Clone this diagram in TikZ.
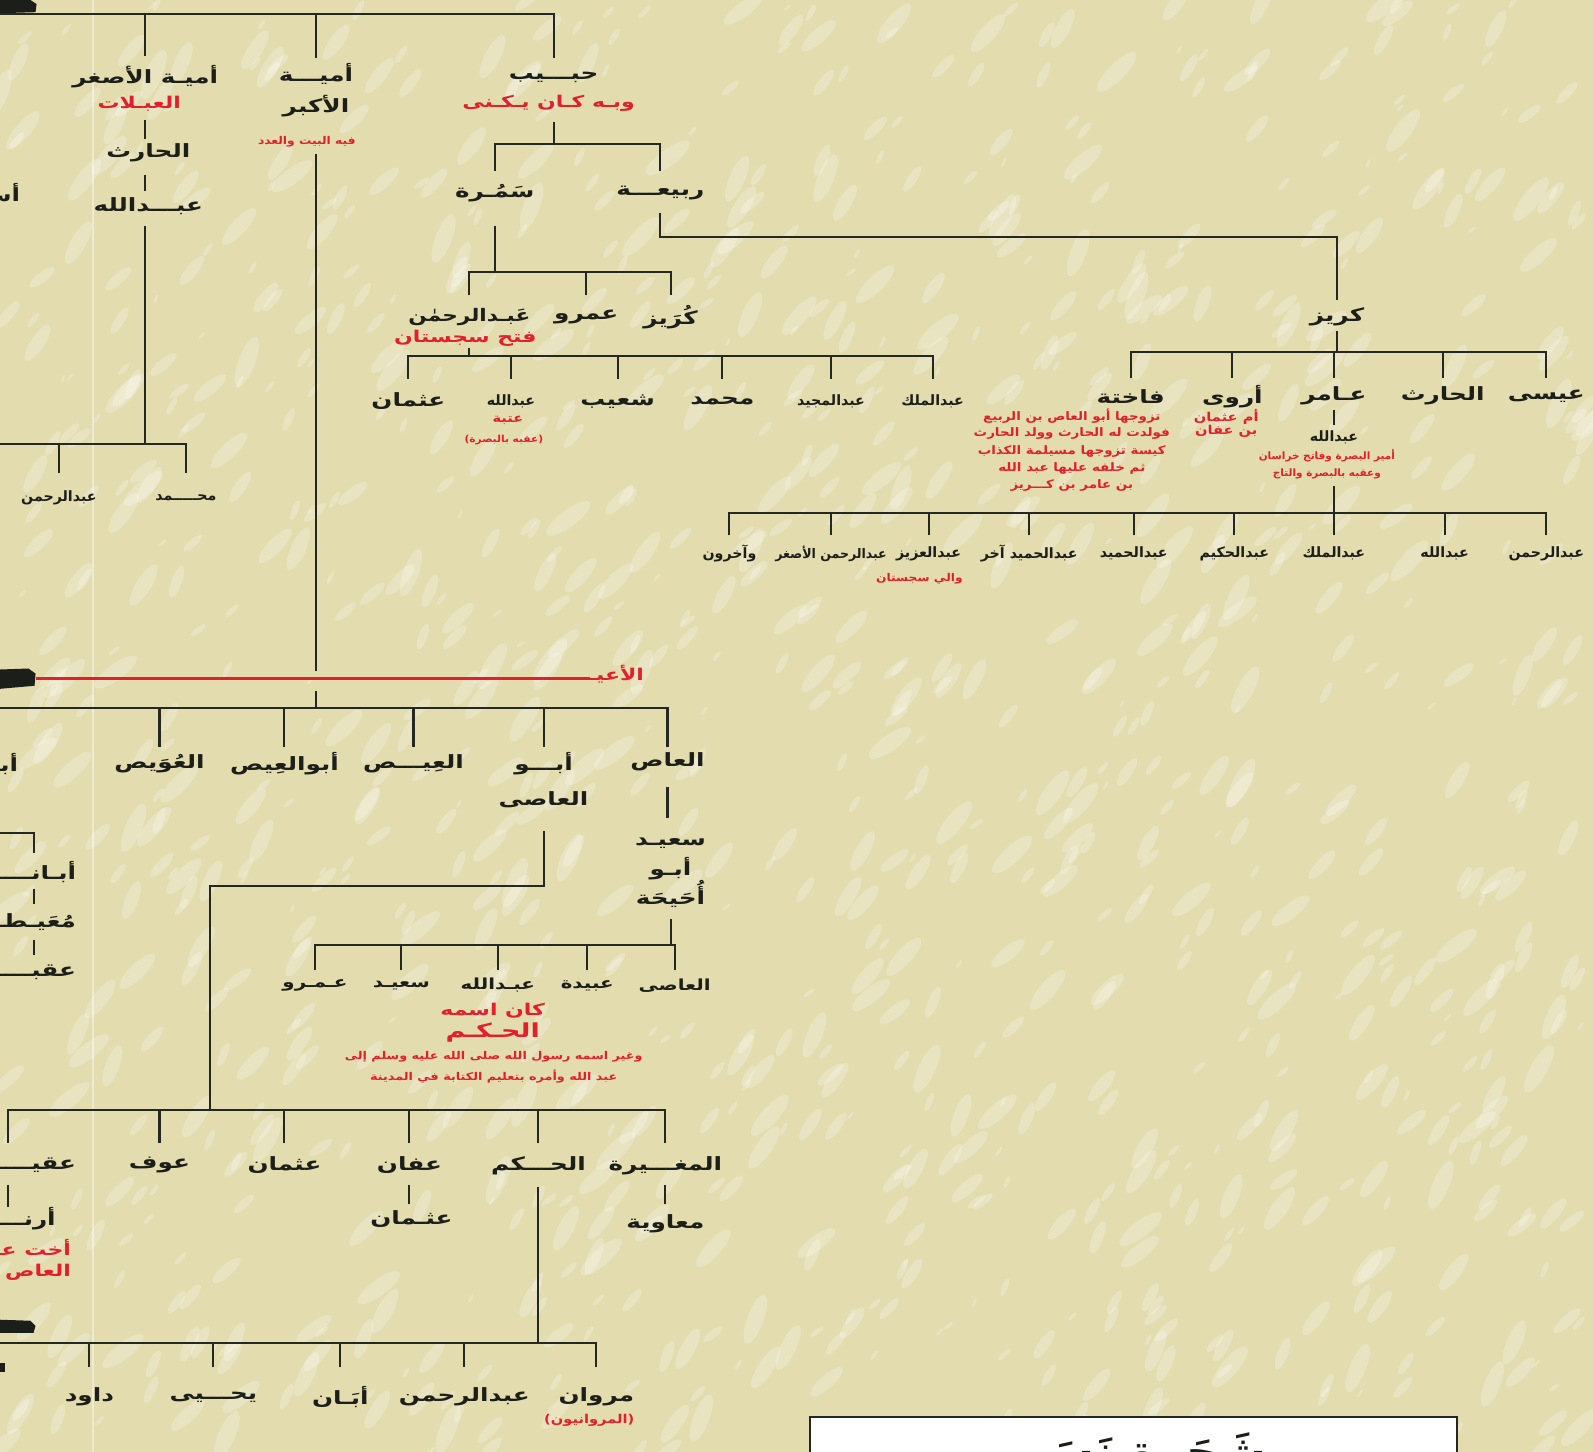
\documentclass[tikz,border=0pt]{standalone}
\usepackage{fontspec}
\newfontfamily\arabicfont[Script=Arabic]{DejaVu Sans}
\TeXXeTstate=1
\def\xst{1}
\newcommand\RL[1]{\scalebox{\xst}[1]{\beginR#1\endR}}
\definecolor{parch}{RGB}{226,220,174}
\definecolor{ink}{RGB}{28,30,26}
\definecolor{linec}{RGB}{36,40,34}
\definecolor{redc}{RGB}{226,32,45}
\tikzset{
  nm/.style={font={\arabicfont\bfseries\fontsize{18}{20}\selectfont\def\xst{1.35}}, text=ink, inner sep=0pt},
  nmm/.style={font={\arabicfont\bfseries\fontsize{15}{17}\selectfont\def\xst{1.3}}, text=ink, inner sep=0pt},
  nms/.style={font={\arabicfont\bfseries\fontsize{14}{16}\selectfont\def\xst{1}}, text=ink, inner sep=0pt},
  rd/.style={font={\arabicfont\bfseries\fontsize{16}{18}\selectfont\def\xst{1.35}}, text=redc, inner sep=0pt},
  rds/.style={font={\arabicfont\bfseries\fontsize{12}{14}\selectfont\def\xst{1.2}}, text=redc, inner sep=0pt},
  rdf/.style={font={\arabicfont\bfseries\fontsize{11.5}{13}\selectfont\def\xst{1.15}}, text=redc, inner sep=0pt},
  rdxs/.style={font={\arabicfont\bfseries\fontsize{10.5}{12}\selectfont\def\xst{1.15}}, text=redc, inner sep=0pt},
  rdam/.style={font={\arabicfont\bfseries\fontsize{10}{12}\selectfont\def\xst{1.03}}, text=redc, inner sep=0pt},
  ln/.style={draw=linec, line width=2pt},
  thinln/.style={draw=linec, line width=1.1pt},
  redln/.style={draw=redc, line width=2.4pt},
}
\begin{document}
\begin{tikzpicture}[x=1pt,y=-1pt]
\useasboundingbox (0,0) rectangle (1568,1429);
\fill[parch] (0,0) rectangle (1568,1429);
% paper texture
\pgfmathsetseed{11}
\foreach \i in {1,...,1100}{
  \pgfmathsetmacro\xx{rnd*1568}
  \pgfmathsetmacro\yy{rnd*1429}
  \pgfmathsetmacro\rr{2+rnd*10}
  \pgfmathsetmacro\ang{35+rnd*35}
  \fill[white,opacity=0.24,rotate around={\ang:(\xx,\yy)}] (\xx,\yy) ellipse [x radius=\rr*2.2, y radius=\rr*0.7];
}
\draw[white,opacity=0.45,line width=2pt] (92,0) -- (92,1429);

% black bars at left edge
\fill[ink] (0,0) -- (30,0) -- (36,4) -- (35,12) -- (0,13) -- cycle;
\fill[ink] (0,659) -- (28,658) -- (35,663) -- (34,675) -- (0,678) -- cycle;
\fill[ink] (0,1299) -- (30,1300) -- (35,1305) -- (33,1312) -- (0,1312) -- cycle;
\fill[ink] (0,1342) rectangle (5,1350);

% ===== top part =====
\coordinate (tb) at (0,14);
\node[nm] (umasg) at (143,75) {\RL{أميـة الأصغر}};
\node[rd] (abalat) at (137,102) {\RL{العبـلات}};
\node[nm] (harith1) at (146,150) {\RL{الحارث}};
\node[nm] (abdallah1) at (146,203) {\RL{عبـــدالله}};
\node[nms] (abdrahman1) at (58,490) {\RL{عبدالرحمن}};
\node[nms] (muhammad1) at (183,490) {\RL{محـــــمد}};
\node[nm] (umakb) at (311,73) {\RL{أميـــة}};
\node[nm] (umakb2) at (311,104) {\RL{الأكبر}};
\node[rdxs] (bayt) at (302,140) {\RL{فيه البيت والعدد}};
\node[nm, anchor=east] (asx) at (20,190) {\RL{أسـ}};
\node[nm] (habib) at (545,76) {\RL{حبـــيب}};
\node[rd] (kunya) at (540,102) {\RL{وبـه كـان يـكـنى}};
\node[nm] (samura) at (487,190) {\RL{سَمُـرة}};
\node[nm] (rabia) at (650,190) {\RL{ربيعـــة}};

\draw[ln] (tb) -- (habib |- tb) -- (habib |- 0,57);
\draw[ln] (umasg |- tb) -- (umasg |- 0,55);
\draw[ln] (umakb |- tb) -- (umakb |- 0,57);
\draw[ln] (umasg |- 0,118) -- (umasg |- 0,137);
\draw[ln] (umasg |- 0,172) -- (umasg |- 0,188);
\coordinate (lb1) at (0,437);
\draw[ln] (umasg |- 0,222) -- (umasg |- lb1);
\draw[ln] (lb1) -- (muhammad1 |- lb1) -- (muhammad1 |- 0,466);
\draw[ln] (abdrahman1 |- lb1) -- (abdrahman1 |- 0,466);
\draw[thinln] (umakb |- 0,152) -- (umakb |- 0,660);

\draw[ln] (habib |- 0,120) -- (habib |- 0,142);
\draw[ln] (samura |- 0,168) -- (samura |- 0,142) -- (rabia |- 0,142) -- (rabia |- 0,168);

% Samura branch
\node[nm, font={\arabicfont\bfseries\fontsize{17}{19}\selectfont\def\xst{1.25}}] (abdrahman2) at (462,312) {\RL{عَبـدالرحمٰن}};
\node[nm] (amr1) at (577,312) {\RL{عمرو}};
\node[nm] (kurayz1) at (660,312) {\RL{كُرَيز}};
\node[rd] (sijistan) at (458,333) {\RL{فتح سجستان}};
\draw[ln] (samura |- 0,222) -- (samura |- 0,268);
\draw[ln] (abdrahman2 |- 0,290) -- (abdrahman2 |- 0,268) -- (kurayz1 |- 0,268) -- (kurayz1 |- 0,290);
\draw[ln] (amr1 |- 0,268) -- (amr1 |- 0,290);

\node[nm] (uthman1) at (402,395) {\RL{عثمان}};
\node[nms] (abdallah2) at (503,395) {\RL{عبدالله}};
\node[nm] (shuayb) at (608,395) {\RL{شعيب}};
\node[nm] (muhammad2) at (711,395) {\RL{محمد}};
\node[nms] (abdmajid) at (818,395) {\RL{عبدالمجيد}};
\node[nms] (abdmalik1) at (918,395) {\RL{عبدالملك}};
\node[rds] (utba) at (500,414) {\RL{عتبة}};
\node[rdxs, font={\arabicfont\bfseries\fontsize{9.5}{11}\selectfont\def\xst{1.1}}] (aqib1) at (496,433) {\RL{(عقبه بالبصرة)}};
\coordinate (b2) at (0,350);
\draw[ln] (abdrahman2 |- 0,343) -- (abdrahman2 |- b2);
\draw[ln] (uthman1 |- 0,373) -- (uthman1 |- b2) -- (abdmalik1 |- b2) -- (abdmalik1 |- 0,373);
\foreach \n in {abdallah2,shuayb,muhammad2,abdmajid}{\draw[ln] (\n |- b2) -- (\n |- 0,373);}

% Rabia -> Kurayz
\node[nm] (kurayz2) at (1316,312) {\RL{كريز}};
\draw[ln] (rabia |- 0,210) -- (rabia |- 0,233) -- (kurayz2 |- 0,233) -- (kurayz2 |- 0,295);

\node[nm] (fakhita) at (1113,390) {\RL{فاختة}};
\node[nm] (arwa) at (1213,390) {\RL{أروى}};
\node[nm] (amir) at (1313,390) {\RL{عـامر}};
\node[nm] (harith2) at (1420,390) {\RL{الحارث}};
\node[nm] (isa) at (1522,390) {\RL{عيسى}};
\coordinate (b3) at (0,346);
\draw[ln] (kurayz2 |- 0,326) -- (kurayz2 |- b3);
\draw[ln] (fakhita |- 0,372) -- (fakhita |- b3) -- (isa |- b3) -- (isa |- 0,372);
\foreach \n in {arwa,amir,harith2}{\draw[ln] (\n |- b3) -- (\n |- 0,372);}

\node[rdf] (fk1) at (1055,410) {\RL{تزوجها أبو العاص بن الربيع}};
\node[rdf] (fk2) at (1055,427) {\RL{فولدت له الحارث وولد الحارث}};
\node[rdf] (fk3) at (1055,444) {\RL{كيسة تزوجها مسيلمة الكذاب}};
\node[rdf] (fk4) at (1055,461) {\RL{ثم خلفه عليها عبد الله}};
\node[rdf] (fk5) at (1055,478) {\RL{بن عامر بن كـــريز}};
\node[rds] (ar1) at (1207,410) {\RL{أم عثمان}};
\node[rds] (ar2) at (1207,425) {\RL{بن عفان}};

\node[nms] (abdallah3) at (1313,430) {\RL{عبدالله}};
\node[rdam] (am1) at (1306,449) {\RL{أمير البصرة وفاتح خراسان}};
\node[rdam] (am2) at (1306,466) {\RL{وعقبه بالبصرة والتاج}};
\draw[ln] (amir |- 0,404) -- (amir |- 0,418);

\coordinate (b4) at (0,505);
\draw[ln] (abdallah3 |- 0,478) -- (abdallah3 |- b4);
\node[nms] (akharun) at (718,545) {\RL{وآخرون}};
\node[nms, font={\arabicfont\bfseries\fontsize{13}{15}\selectfont\def\xst{0.95}}] (abdrasg) at (818,545) {\RL{عبدالرحمن الأصغر}};
\node[nms] (abdaziz) at (914,545) {\RL{عبدالعزيز}};
\node[nms] (abdhamid2) at (1013,545) {\RL{عبدالحميد آخر}};
\node[nms] (abdhamid) at (1116,545) {\RL{عبدالحميد}};
\node[nms] (abdhakim) at (1215,545) {\RL{عبدالحكيم}};
\node[nms] (abdmalik2) at (1313,545) {\RL{عبدالملك}};
\node[nms] (abdallah4) at (1422,545) {\RL{عبدالله}};
\node[nms] (abdrahman3) at (1522,545) {\RL{عبدالرحمن}};
\node[rdxs] (wali) at (905,570) {\RL{والي سجستان}};
\draw[ln] (akharun |- 0,527) -- (akharun |- b4) -- (abdrahman3 |- b4) -- (abdrahman3 |- 0,527);
\foreach \n in {abdrasg,abdaziz,abdhamid2,abdhamid,abdhakim,abdmalik2,abdallah4}{\draw[ln] (\n |- b4) -- (\n |- 0,527);}

% ===== middle part =====
\node[rd, anchor=east] (ayas) at (634,664) {\RL{الأعيـ}};
\coordinate (blob2) at (35,668);
\draw[redln] (blob2) -- ([xshift=2pt]ayas.west |- blob2);
\draw[thinln] (umakb |- 0,680) -- (umakb |- 0,697);

\coordinate (lb2) at (0,697);
\node[nm] (uways) at (157,752) {\RL{العُوَيص}};
\node[nm] (abuays) at (280,752) {\RL{أبوالعِيص}};
\node[nm] (ays) at (407,752) {\RL{العِيـــص}};
\node[nm] (abuas) at (535,752) {\RL{أبـــو}};
\node[nm] (abuas2) at (535,787) {\RL{العاصى}};
\node[nm] (as) at (657,750) {\RL{العاص}};
\node[nm, anchor=east] (ax) at (18,752) {\RL{أبـ}};
\draw[ln] (lb2) -- (as |- lb2) -- (as |- 0,735);
\foreach \n in {uways,abuays,ays,abuas}{\draw[ln] (\n |- lb2) -- (\n |- 0,735);}

\node[nm] (said1) at (660,830) {\RL{سعيـد}};
\node[nm] (abu2) at (660,855) {\RL{أبـو}};
\node[nm] (uhayha) at (660,880) {\RL{أُحَيحَة}};
\draw[ln] (as |- 0,775) -- (as |- 0,805);

\coordinate (j1) at (207,872);
\draw[ln] (abuas2 |- 0,818) -- (abuas2 |- j1) -- (j1) -- (j1 |- 0,1093);

\coordinate (b5) at (0,930);
\node[nmm] (amr2) at (310,970) {\RL{عـمـرو}};
\node[nmm] (said2) at (395,970) {\RL{سعيـد}};
\node[nmm] (abdallah5) at (490,970) {\RL{عبـدالله}};
\node[nmm] (ubayda) at (578,970) {\RL{عبيدة}};
\node[nmm] (asi) at (664,970) {\RL{العاصى}};
\draw[ln] (said1 |- 0,905) -- (said1 |- b5);
\draw[ln] (amr2 |- 0,955) -- (amr2 |- b5) -- (asi |- b5) -- (asi |- 0,955);
\foreach \n in {said2,abdallah5,ubayda}{\draw[ln] (\n |- b5) -- (\n |- 0,955);}
\node[rd] (kan) at (485,995) {\RL{كان اسمه}};
\node[rd, font={\arabicfont\bfseries\fontsize{19}{21}\selectfont\def\xst{1.4}}] (hakamr) at (485,1016) {\RL{الحـكـم}};
\node[rdxs, font={\arabicfont\bfseries\fontsize{10.5}{12}\selectfont\def\xst{1.2}}] (ghyr1) at (486,1040) {\RL{وغير اسمه رسول الله صلى الله عليه وسلم إلى}};
\node[rdxs, font={\arabicfont\bfseries\fontsize{10.5}{12}\selectfont\def\xst{1.2}}] (ghyr2) at (486,1060) {\RL{عبد الله وأمره بتعليم الكتابة في المدينة}};

% left partial column
\coordinate (lb3) at (0,820);
\coordinate (c33) at (33,840);
\draw[ln] (lb3) -| (c33);
\node[nm, anchor=east] (abanL) at (75,858) {\RL{أبـانـــــ}};
\node[nm, anchor=east] (muayt) at (75,908) {\RL{مُعَيـطـــــ}};
\node[nm, anchor=east] (uqba) at (75,957) {\RL{عقبـــــــ}};
\coordinate (c33b) at (33,875);
\coordinate (c33c) at (33,925);
\draw[ln] (c33b) -- ++(0,15);
\draw[ln] (c33c) -- ++(0,15);

% Abu al-As children
\coordinate (lb4) at (8,1093);
\node[nm, anchor=east] (uqayl) at (75,1147) {\RL{عقيـــــ}};
\node[nm] (awf) at (157,1147) {\RL{عوف}};
\node[nm] (uthman2) at (280,1147) {\RL{عثمان}};
\node[nm] (affan) at (403,1147) {\RL{عفان}};
\node[nm] (hakam) at (530,1147) {\RL{الحـــكم}};
\node[nm] (mughira) at (655,1147) {\RL{المغـــيرة}};
\draw[ln] (lb4 |- 0,1125) -- (lb4) -- (mughira |- lb4) -- (mughira |- 0,1125);
\foreach \n in {awf,uthman2,affan,hakam}{\draw[ln] (\n |- lb4) -- (\n |- 0,1125);}

\node[nm] (uthman3) at (405,1200) {\RL{عثـمان}};
\node[nm] (muawiya) at (655,1205) {\RL{معاوية}};
\draw[ln] (affan |- 0,1166) -- (affan |- 0,1185);
\draw[ln] (mughira |- 0,1166) -- (mughira |- 0,1185);
\draw[ln] (lb4 |- 0,1166) -- (lb4 |- 0,1188);
\node[nm, anchor=east] (arnab) at (55,1200) {\RL{أرنـــــ}};
\node[rd, anchor=east] (ukht) at (70,1228) {\RL{أخت عـــ}};
\node[rd, anchor=east] (aslm) at (70,1252) {\RL{العاص لـــ}};

% al-Hakam children
\coordinate (lb5) at (0,1322);
\node[nm] (daud) at (88,1375) {\RL{داود}};
\node[nm] (yahya) at (210,1375) {\RL{يحـــيى}};
\node[nm] (aban2) at (335,1375) {\RL{أبَـان}};
\node[nm] (abdrahman4) at (457,1375) {\RL{عبدالرحمن}};
\node[nm] (marwan) at (587,1375) {\RL{مروان}};
\node[rds] (marwaniyun) at (580,1398) {\RL{(المروانيون)}};
\draw[ln] (hakam |- 0,1168) -- (hakam |- lb5);
\draw[ln] (lb5) -- (marwan |- lb5) -- (marwan |- 0,1346);
\foreach \n in {daud,yahya,aban2,abdrahman4}{\draw[ln] (\n |- lb5) -- (\n |- 0,1346);}

% title box (cut off at the lower edge)
\draw[draw=linec, line width=1.6pt, fill=white] (797,1395) rectangle (1434,1470);
\node[font={\arabicfont\bfseries\fontsize{46}{52}\selectfont}, text=ink, anchor=north, inner sep=0pt] (title) at (1115,1410) {\beginR شَجَرة نَسَب\endR};
\end{tikzpicture}
\end{document}
